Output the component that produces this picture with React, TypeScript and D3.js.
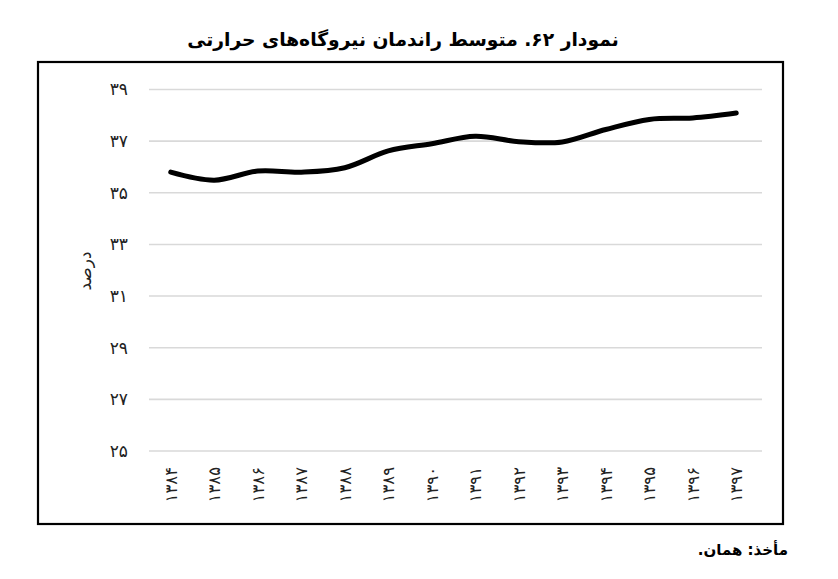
import React from "react";
import * as d3 from "d3";

const years: string[] = ["۱۳۸۴","۱۳۸۵","۱۳۸۶","۱۳۸۷","۱۳۸۸","۱۳۸۹","۱۳۹۰","۱۳۹۱","۱۳۹۲","۱۳۹۳","۱۳۹۴","۱۳۹۵","۱۳۹۶","۱۳۹۷"];
const efficiency: number[] = [35.80, 35.49, 35.84, 35.80, 35.97, 36.62, 36.90, 37.19, 36.98, 36.97, 37.45, 37.84, 37.90, 38.09];
const yTicks: number[] = [25, 27, 29, 31, 33, 35, 37, 39];

const title = "نمودار ۶۲. متوسط راندمان نیروگاه‌های حرارتی";
const yTitle = "درصد";
const source = "مأخذ: همان.";

const toFa = (n: number) => String(n).replace(/\d/g, (d) => "۰۱۲۳۴۵۶۷۸۹"[+d]);

const W = 838, H = 579;
const FONT = "'DejaVu Sans', sans-serif";

export default function App() {
  const x = d3.scaleBand<string>().domain(years).range([149, 758]);
  const y = d3.scaleLinear().domain([25, 39]).range([451, 89.5]);
  const line = d3.line<number>()
    .x((_, i) => (x(years[i]) as number) + x.bandwidth() / 2)
    .y((d) => y(d))
    .curve(d3.curveCardinal.tension(0));
  const [x0, x1] = x.range();
  return (
    <svg width={W} height={H} style={{ position: "absolute", left: 0, top: 0, background: "#fff" }} fontFamily={FONT}>
      <rect x={0} y={0} width={W} height={H} fill="#fff" />
      <text x={403} y={46} textAnchor="middle" direction="rtl" fontSize={18.7} fontWeight="bold" fill="#000">{title}</text>
      <rect x={38} y={62} width={745} height={462} fill="none" stroke="#000" strokeWidth={2.2} />
      {yTicks.map((t) => (
        <g key={t}>
          <line x1={x0} x2={x1 + 4} y1={y(t)} y2={y(t)} stroke="#d9d9d9" strokeWidth={1.6} />
          <text x={128} y={y(t)} dy="0.35em" textAnchor="end" fontSize={17} fill="#222">{toFa(t)}</text>
        </g>
      ))}
      <text transform={`translate(91,${271}) rotate(-90)`} textAnchor="middle" direction="rtl" fontSize={17} fill="#222">{yTitle}</text>
      {years.map((yr) => (
        <text key={yr}
          transform={`translate(${(x(yr) as number) + x.bandwidth() / 2 + 6},467) rotate(-90)`}
          textAnchor="end" fontSize={16.5} fill="#222">{yr}</text>
      ))}
      <path d={line(efficiency) as string} fill="none" stroke="#000" strokeWidth={5} strokeLinecap="round" strokeLinejoin="round" />
      <text x={788} y={555} textAnchor="start" direction="rtl" fontSize={15} fontWeight="bold" fill="#000">{source}</text>
    </svg>
  );
}
